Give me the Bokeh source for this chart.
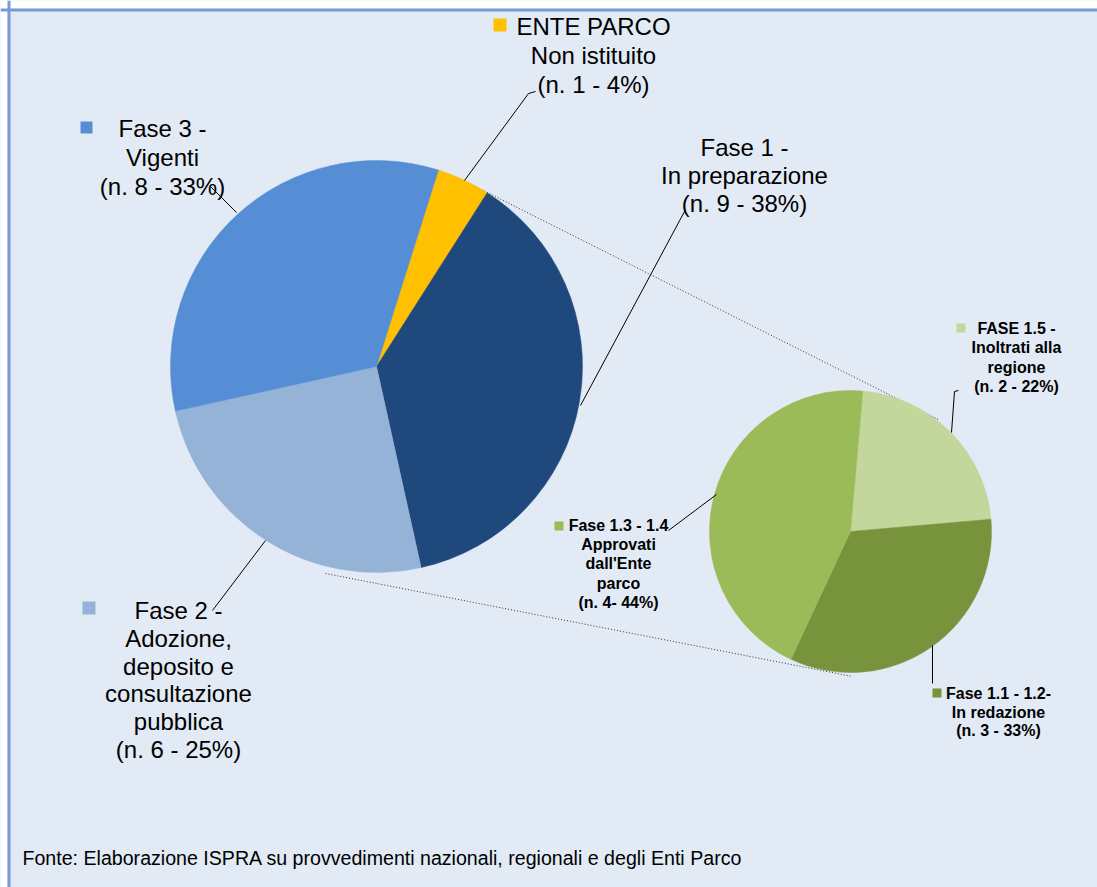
import math
from bokeh.plotting import figure
from bokeh.models import Range1d, Span
from bokeh.core.properties import value
from bokeh.embed import file_html
from bokeh.resources import INLINE

# ---- data ----
main_labels = ["ENTE PARCO Non istituito", "Fase 1 - In preparazione",
               "Fase 2 - Adozione, deposito e consultazione pubblica", "Fase 3 - Vigenti"]
main_values = [1, 9, 6, 8]
main_colors = ["#FFC000", "#1F497D", "#95B3D7", "#558ED5"]

sub_labels = ["FASE 1.5 - Inoltrati alla regione", "Fase 1.1 - 1.2- In redazione",
              "Fase 1.3 - 1.4 Approvati dall'Ente parco"]
sub_values = [2, 3, 4]
sub_colors = ["#C3D69B", "#77933C", "#9BBB59"]

lbl_ente = ["ENTE PARCO", "Non istituito", "(n. 1 - 4%)"]
lbl_f1 = ["Fase 1 -", "In preparazione", "(n. 9 - 38%)"]
lbl_f2 = ["Fase 2 -", "Adozione,", "deposito e", "consultazione", "pubblica", "(n. 6 - 25%)"]
lbl_f3 = ["Fase 3 -", "Vigenti", "(n. 8 - 33%)"]
lbl_s15 = ["FASE 1.5 -", "Inoltrati alla", "regione", "(n. 2 - 22%)"]
lbl_s13 = ["Fase 1.3 - 1.4", "Approvati", "dall'Ente", "parco", "(n. 4- 44%)"]
lbl_s11 = ["Fase 1.1 - 1.2-", "In redazione", "(n. 3 - 33%)"]
source_note = "Fonte:  Elaborazione ISPRA su provvedimenti nazionali, regionali e degli Enti Parco"

W, H = 1097, 887
BG = "#E2EAF5"
BORDER = "#779CD4"

p = figure(width=W, height=H, output_backend="svg", toolbar_location=None,
           x_range=Range1d(0, W), y_range=Range1d(-H, 0),
           x_axis_location=None, y_axis_location=None, min_border=0)
p.grid.visible = False
p.outline_line_color = None
p.background_fill_color = BG
p.border_fill_color = "#FFFFFF"

def Y(py):
    return -py

# white margin above/left of the chart area, then border (top and left)
p.quad(left=[0], right=[W], top=[0], bottom=[Y(8)], fill_color="#FFFFFF", line_color=None)
p.quad(left=[0], right=[7], top=[0], bottom=[-H], fill_color="#FFFFFF", line_color=None)
p.add_layout(Span(location=Y(9.5), dimension="width", line_color=BORDER, line_width=3))
p.add_layout(Span(location=8.5, dimension="height", line_color=BORDER, line_width=3))

def wedges(cx, cy, r, start_deg, vals, cols):
    tot = float(sum(vals))
    s = start_deg
    starts, ends = [], []
    for v in vals:
        e = s - v * 360.0 / tot
        starts.append(math.radians(s))
        ends.append(math.radians(e))
        s = e
    p.wedge(x=[cx] * len(vals), y=[Y(cy)] * len(vals), radius=r,
            start_angle=starts, end_angle=ends, direction="clock",
            fill_color=cols, line_color=cols, line_width=0.5)

# connectors (dotted)
p.line([465, 938], [Y(181), Y(419)], line_color="#333333", line_width=1, line_dash="1 2")
p.line([325, 852], [Y(573), Y(676)], line_color="#333333", line_width=1, line_dash="1 2")

wedges(376, 366, 206, 72.5, main_values, main_colors)
wedges(850, 531, 141, 85.0, sub_values, sub_colors)

# leader lines
leaders = [
    [(464, 180), (528, 93), (535, 91)],
    [(236, 212), (210, 186)],
    [(580, 405), (684, 211)],
    [(265, 540), (212, 610)],
    [(951, 432), (954, 391), (958, 390)],
    [(716, 494), (668, 530)],
    [(932, 645), (932, 683)],
]
for pts in leaders:
    p.line([a for a, b in pts], [Y(b) for a, b in pts], line_color="#000000", line_width=1)

def block(lines, cx, y0, dy, size, bold=False):
    ys = [Y(y0 + i * dy) for i in range(len(lines))]
    p.text(x=[cx] * len(lines), y=ys, text=lines, text_align="center",
           text_baseline="middle", text_color="#000000",
           text_font=value("Liberation Sans"), text_font_size=f"{size}px",
           text_font_style="bold" if bold else "normal")

def key(x0, y0, s, color):
    p.rect(x=[x0 + s / 2], y=[Y(y0 + s / 2)], width=s, height=s,
           fill_color=color, line_color=None)

block(lbl_ente, 593, 26, 29, 24)
key(493, 18, 13, main_colors[0])
block(lbl_f3, 162, 128, 29, 24)
key(80, 121, 12, main_colors[3])
block(lbl_f1, 744, 147, 28, 24)
block(lbl_f2, 178, 610, 27.8, 24)
key(82, 601, 13, main_colors[2])

block(lbl_s15, 1016, 328, 19.3, 16, bold=True)
key(956, 323, 9, sub_colors[0])
block(lbl_s13, 618, 525, 19.2, 16, bold=True)
key(554, 521, 9, sub_colors[2])
block(lbl_s11, 998, 693, 18.7, 16, bold=True)
key(932, 688, 9, sub_colors[1])

p.text(x=[22], y=[Y(857)], text=[source_note], text_align="left", text_baseline="middle",
       text_color="#000000", text_font=value("Liberation Sans"), text_font_size="19.6px")

open("out.html", "w").write(file_html(p, INLINE))
